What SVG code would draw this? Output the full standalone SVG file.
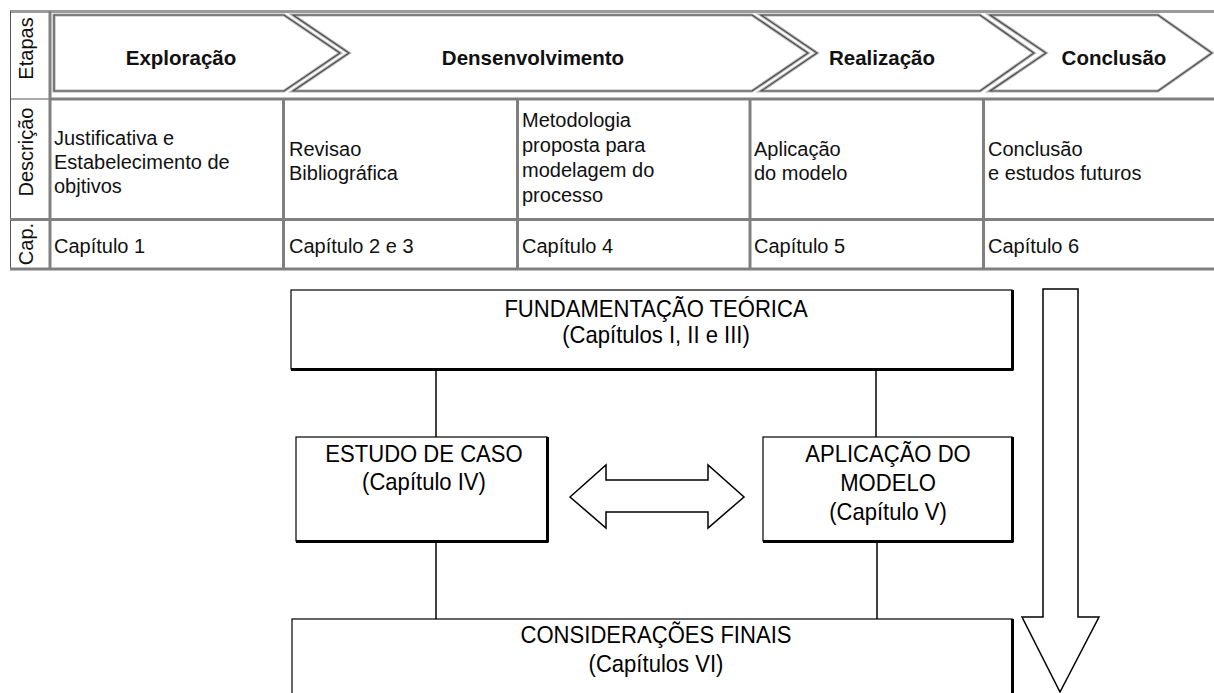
<svg xmlns="http://www.w3.org/2000/svg" width="1214" height="693" viewBox="0 0 1214 693">
  <defs>
    <style>
      .grid { stroke: #808080; stroke-width: 3; fill: none; }
      .thin { stroke: #555; stroke-width: 1; fill: none; }
      .chev-halo { fill: #fff; stroke: #b4b4b4; stroke-width: 3.2; stroke-linejoin: miter; }
      .chev { fill: none; stroke: #4a4a4a; stroke-width: 1.1; stroke-linejoin: miter; }
      .stage { font-family: "Liberation Sans", Arial, sans-serif; font-size: 20.5px; font-weight: bold; fill: #111; text-anchor: middle; }
      .cell { font-family: "Liberation Sans", Arial, sans-serif; font-size: 20px; fill: #111; }
      .label { font-family: "Liberation Sans", Arial, sans-serif; font-size: 20px; fill: #111; text-anchor: middle; }
      .box { fill: #fff; stroke: #000; stroke-width: 1.2; }
      .shadow { stroke: #000; stroke-width: 3; }
      .boxtxt { font-family: "Liberation Sans", Arial, sans-serif; font-size: 24px; fill: #000; text-anchor: middle; }
      .link { stroke: #000; stroke-width: 1.5; }
      .arrow { fill: #fff; stroke: #000; stroke-width: 1.5; stroke-linejoin: miter; }
    </style>
  </defs>
  <rect width="1214" height="693" fill="#fff"/>

  <!-- Stage table: frame and cell rules -->
  <g id="table-frame">
    <line x1="10" y1="11.5" x2="1214" y2="11.5" stroke="#9a9a9a" stroke-width="3"/>
    <line class="thin" x1="10.5" y1="11" x2="10.5" y2="270"/>
    <line class="thin" x1="10" y1="99" x2="50" y2="99"/>
    <line class="grid" x1="50" y1="11" x2="50" y2="270"/>
    <line class="grid" x1="50" y1="99" x2="1214" y2="99"/>
    <line class="grid" x1="10" y1="219.5" x2="1214" y2="219.5"/>
    <line class="grid" x1="10" y1="269" x2="1214" y2="269"/>
    <line class="grid" x1="283.5" y1="99" x2="283.5" y2="270"/>
    <line class="grid" x1="517.5" y1="99" x2="517.5" y2="270"/>
    <line class="grid" x1="750" y1="99" x2="750" y2="270"/>
    <line class="grid" x1="983.5" y1="99" x2="983.5" y2="270"/>
  </g>

  <!-- Row labels -->
  <g id="row-labels">
    <text class="label" transform="translate(33,48.5) rotate(-90)">Etapas</text>
    <text class="label" transform="translate(33,152) rotate(-90)">Descrição</text>
    <text class="label" transform="translate(33,244) rotate(-90)">Cap.</text>
  </g>

  <!-- Stage chevrons -->
  <g id="stage-exploracao">
    <path class="chev-halo" d="M54,15 H284 L340,53 L284,91 H54 Z"/>
    <path class="chev" d="M54,15 H284 L340,53 L284,91 H54 Z"/>
    <text class="stage" x="181" y="65">Exploração</text>
  </g>
  <g id="stage-desenvolvimento">
    <path class="chev-halo" d="M293,15 H752 L808,53 L752,91 H293 L349,53 Z"/>
    <path class="chev" d="M293,15 H752 L808,53 L752,91 H293 L349,53 Z"/>
    <text class="stage" x="533" y="65">Densenvolvimento</text>
  </g>
  <g id="stage-realizacao">
    <path class="chev-halo" d="M761,15 H980 L1034,53 L980,91 H761 L817,53 Z"/>
    <path class="chev" d="M761,15 H980 L1034,53 L980,91 H761 L817,53 Z"/>
    <text class="stage" x="882" y="65">Realização</text>
  </g>
  <g id="stage-conclusao">
    <path class="chev-halo" d="M990,15 H1158 L1212,53 L1158,91 H990 L1046,53 Z"/>
    <path class="chev" d="M990,15 H1158 L1212,53 L1158,91 H990 L1046,53 Z"/>
    <text class="stage" x="1114" y="65">Conclusão</text>
  </g>

  <!-- Descriptions -->
  <g id="desc-1">
    <text class="cell" x="54" y="145">Justificativa e</text>
    <text class="cell" x="54" y="169">Estabelecimento de</text>
    <text class="cell" x="54" y="193">objtivos</text>
  </g>
  <g id="desc-2">
    <text class="cell" x="289" y="156">Revisao</text>
    <text class="cell" x="289" y="180">Bibliográfica</text>
  </g>
  <g id="desc-3">
    <text class="cell" x="522" y="127">Metodologia</text>
    <text class="cell" x="522" y="152">proposta para</text>
    <text class="cell" x="522" y="177">modelagem do</text>
    <text class="cell" x="522" y="202">processo</text>
  </g>
  <g id="desc-4">
    <text class="cell" x="754" y="156">Aplicação</text>
    <text class="cell" x="754" y="180">do modelo</text>
  </g>
  <g id="desc-5">
    <text class="cell" x="988" y="156">Conclusão</text>
    <text class="cell" x="988" y="180">e estudos futuros</text>
  </g>

  <!-- Chapters -->
  <g id="chapters">
    <text class="cell" x="54" y="253">Capítulo 1</text>
    <text class="cell" x="289" y="253">Capítulo 2 e 3</text>
    <text class="cell" x="522" y="253">Capítulo 4</text>
    <text class="cell" x="754" y="253">Capítulo 5</text>
    <text class="cell" x="988" y="253">Capítulo 6</text>
  </g>

  <!-- Connectors -->
  <g id="connectors">
    <line class="link" x1="436" y1="370" x2="436" y2="437"/>
    <line class="link" x1="876" y1="370" x2="876" y2="437"/>
    <line class="link" x1="436" y1="542" x2="436" y2="619"/>
    <line class="link" x1="877" y1="542" x2="877" y2="619"/>
    <path class="arrow" d="M570,497 L606,465 V480 H708 V465 L744,497 L708,528 V512 H606 V528 Z"/>
    <path class="arrow" d="M1043,289 H1078 V617 H1099 L1060,692 L1022,617 H1043 Z"/>
  </g>

  <!-- Structure boxes (labels set narrow and tall) -->
  <g id="fundamentacao">
    <rect class="box" x="291" y="290" width="721" height="79"/>
    <line class="shadow" x1="291" y1="369.5" x2="1013.5" y2="369.5"/>
    <line class="shadow" x1="1012.5" y1="290" x2="1012.5" y2="370"/>
    <text class="boxtxt" transform="translate(656,317) scale(0.92,1)">FUNDAMENTAÇÃO TEÓRICA</text>
    <text class="boxtxt" transform="translate(656,343) scale(0.92,1)">(Capítulos I, II e III)</text>
  </g>
  <g id="estudo-de-caso">
    <rect class="box" x="296" y="437" width="251" height="104"/>
    <line class="shadow" x1="296" y1="541.5" x2="548.5" y2="541.5"/>
    <line class="shadow" x1="547.5" y1="437" x2="547.5" y2="542"/>
    <text class="boxtxt" transform="translate(424,462) scale(0.92,1)">ESTUDO DE CASO</text>
    <text class="boxtxt" transform="translate(424,490) scale(0.92,1)">(Capítulo IV)</text>
  </g>
  <g id="aplicacao-do-modelo">
    <rect class="box" x="763" y="437" width="249" height="104"/>
    <line class="shadow" x1="763" y1="541.5" x2="1013.5" y2="541.5"/>
    <line class="shadow" x1="1012.5" y1="437" x2="1012.5" y2="542"/>
    <text class="boxtxt" transform="translate(888,462) scale(0.92,1)">APLICAÇÃO DO</text>
    <text class="boxtxt" transform="translate(888,491) scale(0.92,1)">MODELO</text>
    <text class="boxtxt" transform="translate(888,520) scale(0.92,1)">(Capítulo V)</text>
  </g>
  <g id="consideracoes-finais">
    <rect class="box" x="292" y="619" width="720" height="90"/>
    <line class="shadow" x1="1012.5" y1="619" x2="1012.5" y2="693"/>
    <text class="boxtxt" transform="translate(656,643) scale(0.92,1)">CONSIDERAÇÕES FINAIS</text>
    <text class="boxtxt" transform="translate(656,672) scale(0.92,1)">(Capítulos VI)</text>
  </g>
</svg>
